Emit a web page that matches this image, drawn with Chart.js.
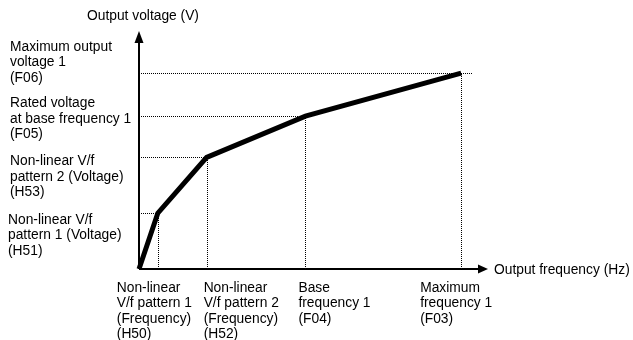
<!DOCTYPE html>
<html>
<head>
<meta charset="utf-8">
<script src="https://cdn.jsdelivr.net/npm/chart.js@4.4.0/dist/chart.umd.min.js"></script>
<style>
  html, body { margin: 0; padding: 0; background: #fff; }
</style>
</head>
<body>
<canvas id="vf" width="633" height="340"></canvas>
<script>
// V/f curve breakpoints: origin, H50/H51, H52/H53, F04/F05, F03/F06
const freqPoints = [0, 3.5, 12.6, 31, 60];
const voltPoints = [0, 57, 114, 156, 200];

// axis ranges (the arrows end at the max values)
const freqMax = 65;
const voltMax = 243;

// text under the frequency axis, one per breakpoint after the origin
const freqNames = [
  ["Non-linear", "V/f pattern 1", "(Frequency)", "(H50)"],
  ["Non-linear", "V/f pattern 2", "(Frequency)", "(H52)"],
  ["Base", "frequency 1", "(F04)"],
  ["Maximum", "frequency 1", "(F03)"],
];

// text left of the voltage axis, one per breakpoint after the origin
const voltNames = [
  ["Non-linear V/f", "pattern 1 (Voltage)", "(H51)"],
  ["Non-linear V/f", "pattern 2 (Voltage)", "(H53)"],
  ["Rated voltage", "at base frequency 1", "(F05)"],
  ["Maximum output", "voltage 1", "(F06)"],
];

const xTitle = "Output frequency (Hz)";
const yTitle = "Output voltage (V)";

// label placement relative to the guide lines
const freqLabelDx = [-41, -3, -7, -41];
const voltLabelDy = [7, 4, -13, -26];
const voltLabelX = [8, 10, 10, 10];
const lineH = 15.5;
const FONT = "13.8px 'Liberation Sans', Arial, sans-serif";

const curve = freqPoints.map((f, i) => ({ x: f, y: voltPoints[i] }));

function drawLines(ctx, lines, x, y) {
  lines.forEach((t, i) => ctx.fillText(t, x, y + i * lineH));
}

//axes with arrows, dotted guides and all the text
const diagram = {
  id: "diagram",
  beforeDatasetsDraw(chart) {
    const ctx = chart.ctx;
    const xs = chart.scales.x, ys = chart.scales.y;
    const x0 = xs.getPixelForValue(0), y0 = ys.getPixelForValue(0);
    const xEnd = xs.getPixelForValue(freqMax), yEnd = ys.getPixelForValue(voltMax);
    ctx.save();

    // dotted guide lines
    ctx.strokeStyle = "#000";
    ctx.lineWidth = 1;
    ctx.setLineDash([1, 1]);
    for (let i = 1; i < freqPoints.length; i++) {
      const px = Math.round(xs.getPixelForValue(freqPoints[i])) + 0.5;
      const py = Math.round(ys.getPixelForValue(voltPoints[i])) + 0.5;
      const last = i === freqPoints.length - 1;
      ctx.beginPath();
      ctx.moveTo(x0, py);
      ctx.lineTo(last ? px + 11 : px, py);
      ctx.moveTo(px, y0);
      ctx.lineTo(px, py);
      ctx.stroke();
    }
    ctx.setLineDash([]);

    // axes
    ctx.lineWidth = 2;
    ctx.beginPath();
    ctx.moveTo(x0, y0);
    ctx.lineTo(x0, yEnd + 10);
    ctx.moveTo(x0, y0);
    ctx.lineTo(xEnd - 8, y0);
    ctx.stroke();
    ctx.fillStyle = "#000";
    ctx.beginPath();
    ctx.moveTo(x0, yEnd);
    ctx.lineTo(x0 - 4.5, yEnd + 12);
    ctx.lineTo(x0 + 4.5, yEnd + 12);
    ctx.closePath();
    ctx.fill();
    ctx.beginPath();
    ctx.moveTo(xEnd, y0);
    ctx.lineTo(xEnd - 10, y0 - 4.5);
    ctx.lineTo(xEnd - 10, y0 + 4.5);
    ctx.closePath();
    ctx.fill();

    // text
    ctx.font = FONT;
    ctx.textBaseline = "middle";
    ctx.textAlign = "left";
    ctx.fillText(yTitle, x0 - 52, yEnd - 15);
    ctx.fillText(xTitle, xEnd + 6, y0 + 1);
    for (let i = 1; i < freqPoints.length; i++) {
      const px = xs.getPixelForValue(freqPoints[i]);
      drawLines(ctx, freqNames[i - 1], px + freqLabelDx[i - 1], y0 + 19);
      const py = ys.getPixelForValue(voltPoints[i]);
      drawLines(ctx, voltNames[i - 1], voltLabelX[i - 1], py + voltLabelDy[i - 1]);
    }
    ctx.restore();
  },
};

new Chart(document.getElementById("vf"), {
  type: "scatter",
  plugins: [diagram],
  data: {
    datasets: [
      {
        data: curve,
        showLine: true,
        borderColor: "#000",
        borderWidth: 5,
        borderJoinStyle: "miter",
        borderCapStyle: "butt",
        pointRadius: 0,
        clip: false,
      },
    ],
  },
  options: {
    responsive: false,
    animation: false,
    layout: { padding: { left: 139, right: 145, top: 31, bottom: 71 } },
    scales: {
      x: { type: "linear", min: 0, max: freqMax, display: false },
      y: { type: "linear", min: 0, max: voltMax, display: false },
    },
    plugins: {
      legend: { display: false },
      tooltip: { enabled: false },
    },
  },
});
</script>
</body>
</html>
